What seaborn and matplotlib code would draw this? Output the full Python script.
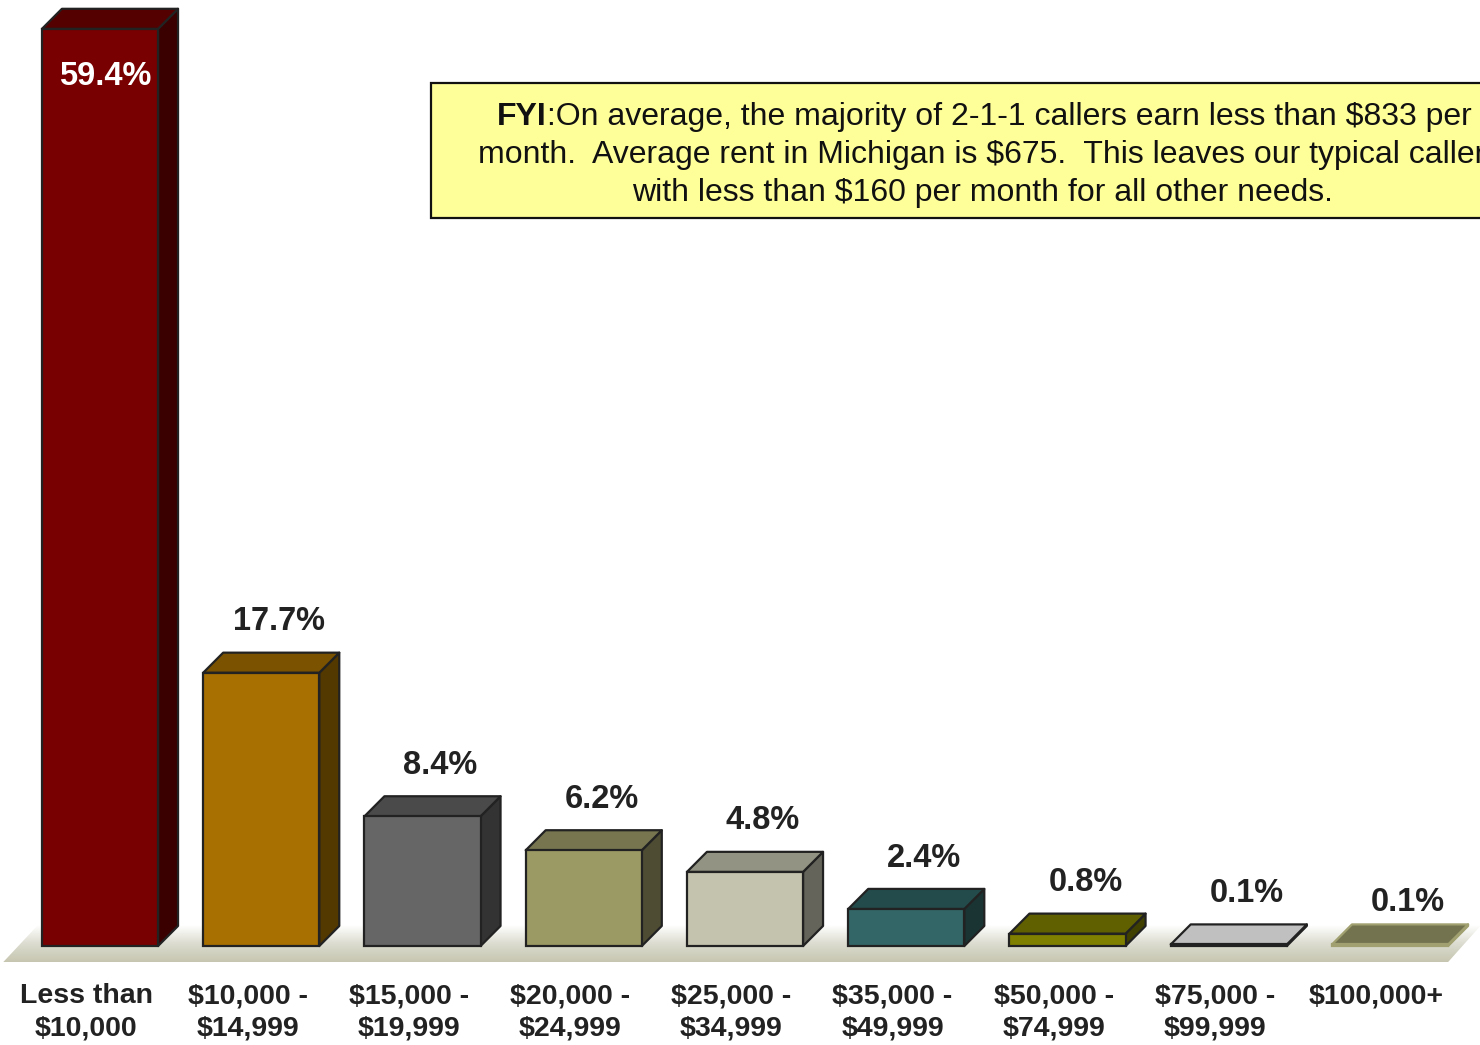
import numpy as np
import pandas as pd
import matplotlib.pyplot as plt
import matplotlib.transforms as mtransforms
from matplotlib.patches import Polygon, Rectangle
from matplotlib.text import Annotation
import seaborn as sns

# income brackets of 2-1-1 callers
brackets = ["Less than\n$10,000", "$10,000 -\n$14,999", "$15,000 -\n$19,999",
            "$20,000 -\n$24,999", "$25,000 -\n$34,999", "$35,000 -\n$49,999",
            "$50,000 -\n$74,999", "$75,000 -\n$99,999", "$100,000+"]
share = [59.4, 17.7, 8.4, 6.2, 4.8, 2.4, 0.8, 0.1, 0.1]
value_labels = ["59.4%", "17.7%", "8.4%", "6.2%", "4.8%", "2.4%", "0.8%", "0.1%", "0.1%"]

front_cols = ["#780000", "#a87000", "#666666", "#9c9a64", "#c4c4ae",
              "#336666", "#808000", "#c0c0c0", "#737350"]
top_cols = ["#550000", "#7a5200", "#4a4a4a", "#767550", "#939383",
            "#244b4b", "#606000", "#c0c0c0", "#737350"]
side_cols = ["#3a0000", "#533800", "#333333", "#4e4d34", "#64645a",
             "#1a3434", "#404000", "#404040", "#737350"]
edge_cols = ["#222222"] * 8 + ["#a0a070"]

df = pd.DataFrame({"bracket": brackets, "share": share})

sns.set_style("white")
plt.rcParams['font.family'] = ['Liberation Sans', 'DejaVu Sans']

fig = plt.figure(figsize=(14.8, 10.45), dpi=100)
ax = fig.add_axes([0, 0, 1, 1])

sns.barplot(data=df, x="bracket", y="share", hue="bracket", palette=front_cols,
            legend=False, width=0.72, saturation=1, ax=ax, zorder=3)

ax.set_xlim(-0.62, 8.558)
ax.set_ylim(-6.41, 61.27)
ax.axis("off")

# 3d depth of the boxes
dx, dy = 0.124, 1.3

# floor with gradient
x0, x1 = ax.patches[0].get_x(), ax.patches[-1].get_x() + ax.patches[-1].get_width()
floor = Polygon([(x0 - 0.24, -1.04), (x1 + 0.0, -1.04), (x1 + 0.2, dy), (x0 - 0.03, dy)],
                closed=True, facecolor="none", edgecolor="none")
ax.add_patch(floor)
grad = np.linspace(0, 1, 256).reshape(-1, 1)
img = ax.imshow(grad, cmap=sns.blend_palette(["#c6c6b0", "#dcdcd0", "#ffffff"], as_cmap=True),
                extent=(x0 - 0.3, x1 + 0.3, -1.04, dy), origin="lower", aspect="auto",
                zorder=1, interpolation="bicubic")
img.set_clip_path(floor)

for i, bar in enumerate(ax.patches[:len(share)]):
    bx, bw, bh = bar.get_x(), bar.get_width(), bar.get_height()
    ec = edge_cols[i]
    bar.set_edgecolor(ec)
    bar.set_linewidth(1.6)
    top = Polygon([(bx, bh), (bx + dx, bh + dy), (bx + bw + dx, bh + dy), (bx + bw, bh)],
                  closed=True, facecolor=top_cols[i], edgecolor=ec, linewidth=1.6,
                  joinstyle="round", zorder=3)
    side = Polygon([(bx + bw, 0), (bx + bw + dx, dy), (bx + bw + dx, bh + dy), (bx + bw, bh)],
                   closed=True, facecolor=side_cols[i], edgecolor=ec, linewidth=1.6,
                   joinstyle="round", zorder=3)
    ax.add_patch(side)
    ax.add_patch(top)
    bar.set_zorder(4)

    cx = bx + bw / 2
    if i == 0:
        ax.text(cx + 0.03, bh - 3.1, value_labels[i], ha="center", va="center",
                fontsize=23.5, fontweight="bold", color="white", zorder=5)
    else:
        off = 2.75 if i == len(share) - 1 else 3.3
        ax.text(cx + dx * 0.9, bh + off, value_labels[i], ha="center", va="center",
                fontsize=23.5, fontweight="bold", color="#222222", zorder=5)

    ax.text(cx - 0.085, -2.4, brackets[i], ha="center", va="top", fontsize=20.5,
            fontweight="bold", color="#222222", linespacing=1.32, zorder=5)

# FYI note box (pixel positions measured from top-left)
px = mtransforms.Affine2D().scale(1 / 1480, -1 / 1045).translate(0, 1) + fig.transFigure
box = Rectangle((431, 83), 1200, 135, transform=px, facecolor="#ffff99",
                edgecolor="#111111", linewidth=1.6, clip_on=False, zorder=6)
fig.add_artist(box)

t1 = fig.text(497, 125, "FYI", transform=px, fontsize=23, fontweight="bold",
              color="#111111", ha="left", va="baseline", zorder=7)
t2 = Annotation(":On average, the majority of 2-1-1 callers earn less than $833 per",
                xy=(1, 0), xycoords=t1, ha="left", va="bottom", fontsize=23,
                color="#111111", annotation_clip=False, zorder=7)
fig.add_artist(t2)
fig.text(982, 163, "month.  Average rent in Michigan is $675.  This leaves our typical caller",
         transform=px, fontsize=23, color="#111111", ha="center", va="baseline", zorder=7)
fig.text(982, 201, "with less than $160 per month for all other needs.",
         transform=px, fontsize=23, color="#111111", ha="center", va="baseline", zorder=7)

fig.savefig("out.png", dpi=100)
